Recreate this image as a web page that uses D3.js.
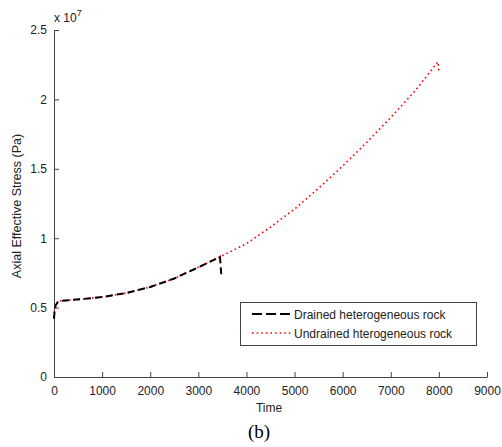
<!DOCTYPE html>
<html lang="en">
<head>
<meta charset="UTF-8">
<title>Axial Effective Stress</title>
<style>
  body { margin: 0; background: #fff; }
  svg { display: block; font-family: "Liberation Sans", Arial, sans-serif; }
</style>
</head>
<body>
<svg id="chart" width="502" height="447"></svg>
<script src="https://cdn.jsdelivr.net/npm/d3@7"></script>
<script>
// values (stress in units of 1e7 Pa)
const drainedTime   = [0, 15, 40, 80, 125, 300, 600, 1000, 1500, 2000, 2500, 3000, 3300, 3450, 3480]
const drainedStress = [0.42, 0.49, 0.52, 0.54, 0.548, 0.553, 0.562, 0.576, 0.605, 0.648, 0.71, 0.79, 0.84, 0.866, 0.72]

const undrainedTime   = [0, 15, 40, 80, 125, 300, 600, 1000, 1500, 2000, 2500, 3000, 3450, 4000, 4500, 5000, 5500, 6000, 6500, 7000, 7500, 7980, 8000]
const undrainedStress = [0.43, 0.49, 0.52, 0.54, 0.548, 0.553, 0.562, 0.576, 0.605, 0.648, 0.71, 0.79, 0.866, 0.96, 1.08, 1.21, 1.36, 1.52, 1.69, 1.87, 2.06, 2.27, 2.2]

const xTicks = [0, 1000, 2000, 3000, 4000, 5000, 6000, 7000, 8000, 9000]
const yTicks = [0, 0.5, 1, 1.5, 2, 2.5]
const legendLabels = ["Drained heterogeneous rock", "Undrained hterogeneous rock"]

const svg = d3.select("#chart")
const x = d3.scaleLinear().domain([0, 9000]).range([54, 487])
const y = d3.scaleLinear().domain([0, 2.5]).range([377, 30])

const axisColor = "#444"

// axes (ticks pointing inward, like matlab)
const xAxis = svg.append("g")
  .attr("transform", "translate(0,377)")
  .call(d3.axisBottom(x).tickValues(xTicks).tickSize(-5).tickSizeOuter(0).tickPadding(7).tickFormat(d3.format("d")))
const yAxis = svg.append("g")
  .attr("transform", "translate(54,0)")
  .call(d3.axisLeft(y).tickValues(yTicks).tickSize(-5).tickSizeOuter(0).tickPadding(7).tickFormat(d => d))

;[xAxis, yAxis].forEach(g => {
  g.select(".domain").attr("stroke", axisColor).attr("stroke-width", 1)
  g.selectAll(".tick line").attr("stroke", axisColor)
  g.selectAll(".tick text").attr("fill", "#222").attr("font-size", 12)
    .attr("font-family", "'Liberation Sans', Arial, sans-serif")
})
xAxis.selectAll(".tick text").attr("dy", "0.9em")

// exponent label
const expo = svg.append("text").attr("x", 54).attr("y", 22).attr("font-size", 12).attr("fill", "#222")
expo.append("tspan").text("x 10")
expo.append("tspan").attr("dy", -6).attr("font-size", 9).text("7")

svg.append("text").attr("x", 269).attr("y", 412).attr("text-anchor", "middle")
  .attr("font-size", 12).attr("fill", "#222").text("Time")
svg.append("text").attr("transform", "translate(21,206) rotate(-90)").attr("text-anchor", "middle")
  .attr("font-size", 12.5).attr("fill", "#222").text("Axial Effective Stress (Pa)")
svg.append("text").attr("x", 259).attr("y", 438).attr("text-anchor", "middle")
  .attr("font-family", "'Liberation Serif', 'Times New Roman', serif").attr("font-size", 19).attr("fill", "#000").text("(b)")

const drained = d3.zip(drainedTime, drainedStress)
const undrained = d3.zip(undrainedTime, undrainedStress)
const line = d3.line().x(d => x(d[0])).y(d => y(d[1]))

svg.append("path").datum(undrained).attr("d", line)
  .attr("fill", "none").attr("stroke", "#ff0000").attr("stroke-width", 1.6).attr("stroke-dasharray", "1.6,3")
svg.append("path").datum(drained).attr("d", line)
  .attr("fill", "none").attr("stroke", "#000").attr("stroke-width", 2).attr("stroke-dasharray", "7,4")

// legend
const leg = svg.append("g")
leg.append("rect").attr("x", 240.5).attr("y", 302.5).attr("width", 236).attr("height", 43)
  .attr("fill", "#fff").attr("stroke", axisColor)
const styles = [
  {stroke: "#000", width: 2, dash: "10,4"},
  {stroke: "#ff0000", width: 1.6, dash: "1.6,3"}
]
legendLabels.forEach((label, i) => {
  const yy = 314 + i * 19
  leg.append("line").attr("x1", 252).attr("x2", 291).attr("y1", yy).attr("y2", yy)
    .attr("stroke", styles[i].stroke).attr("stroke-width", styles[i].width).attr("stroke-dasharray", styles[i].dash)
  leg.append("text").attr("x", 294).attr("y", yy + 4.5).attr("font-size", 12).attr("fill", "#222").text(label)
})
</script>
</body>
</html>
